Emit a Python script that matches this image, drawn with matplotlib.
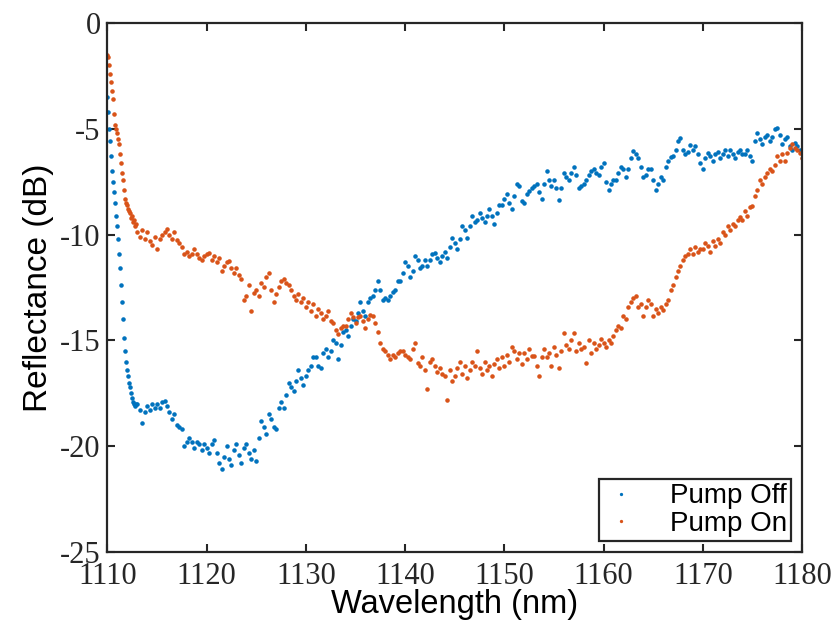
import numpy as np
import matplotlib
matplotlib.use("Agg")
import matplotlib.pyplot as plt

# wavelength grid: fine at the steep start, 0.25 nm afterwards
wl_start = np.round(np.arange(1110.0, 1112.95, 0.1), 2)
wl_main = np.round(np.arange(1113.0, 1180.01, 0.25), 2)
wavelength = np.concatenate([wl_start, wl_main])

# Pump Off (dB)
pump_off_start = [
    -3.5, -4.2, -5.0, -5.6, -6.3, -7.0, -7.5, -8.0, -8.5, -9.1,
    -9.6, -10.2, -10.9, -11.6, -12.4, -13.2, -14.0, -14.9, -15.5, -16.0,
    -16.4, -16.7, -17.0, -17.2, -17.5, -17.7, -17.9, -18.0, -18.1, -18.0,
]
pump_off_main = [
    -18.0, -18.3, -18.9, -18.4,   # 1113
    -18.1, -18.3, -18.0, -18.2,   # 1114
    -18.0, -18.2, -17.9, -17.85,  # 1115
    -18.1, -18.4, -18.7, -18.5,   # 1116
    -19.0, -19.1, -19.2, -20.0,   # 1117
    -19.8, -19.6, -19.8, -20.1,   # 1118
    -19.8, -19.9, -20.2, -19.9,   # 1119
    -20.1, -20.3, -19.9, -19.7,   # 1120
    -20.3, -20.8, -21.1, -20.5,   # 1121
    -20.0, -20.6, -20.9, -20.2,   # 1122
    -19.9, -20.4, -20.8, -20.1,   # 1123
    -19.9, -20.3, -20.6, -20.2,   # 1124
    -20.7, -19.6, -18.8, -19.1,   # 1125
    -19.4, -18.5, -18.7, -19.1,   # 1126
    -19.2, -18.2, -17.9, -18.2,   # 1127
    -17.6, -17.0, -17.2, -17.4,   # 1128
    -16.9, -16.4, -16.8, -17.1,   # 1129
    -16.7, -16.4, -16.2, -15.8,   # 1130
    -15.8, -16.2, -16.3, -15.6,   # 1131
    -15.4, -15.8, -15.5, -15.0,   # 1132
    -15.1, -15.9, -15.2, -14.6,   # 1133
    -14.5, -14.8, -14.3, -14.0,   # 1134
    -14.1, -13.7, -13.2, -13.6,   # 1135
    -13.85, -13.2, -13.0, -12.9,  # 1136
    -12.6, -12.2, -12.6, -13.1,   # 1137
    -13.0, -13.1, -12.9, -12.7,   # 1138
    -12.6, -12.2, -12.2, -11.8,   # 1139
    -11.3, -11.5, -12.0, -11.7,   # 1140
    -11.0, -11.2, -11.6, -11.5,   # 1141
    -11.2, -11.5, -11.2, -10.9,   # 1142
    -10.85, -11.1, -11.3, -11.0,  # 1143
    -10.8, -11.1, -10.6, -10.15,  # 1144
    -10.4, -10.7, -10.2, -9.6,    # 1145
    -9.8, -10.15, -9.6, -9.1,     # 1146
    -9.4, -9.3, -9.0, -9.2,       # 1147
    -9.4, -9.1, -8.8, -9.1,       # 1148
    -9.5, -9.0, -8.6, -8.6,       # 1149
    -8.3, -8.1, -8.5, -8.8,       # 1150
    -8.2, -7.6, -7.7, -8.4,       # 1151
    -8.5, -8.1, -7.95, -7.8,      # 1152
    -7.7, -7.6, -8.0, -8.3,       # 1153
    -7.6, -7.0, -7.4, -7.7,       # 1154
    -7.4, -7.8, -8.35, -7.8,      # 1155
    -7.1, -7.3, -7.4, -7.1,       # 1156
    -6.8, -7.2, -7.8, -7.7,       # 1157
    -7.6, -7.4, -7.2, -7.0,       # 1158
    -6.9, -7.1, -7.2, -6.8,       # 1159
    -6.6, -7.5, -7.9, -7.6,       # 1160
    -7.4, -7.4, -7.1, -6.8,       # 1161
    -6.9, -7.3, -6.9, -6.4,       # 1162
    -6.07, -6.2, -6.4, -6.8,      # 1163
    -7.3, -7.2, -6.9, -6.9,       # 1164
    -7.4, -7.9, -7.6, -7.3,       # 1165
    -7.4, -6.8, -6.5, -6.35,      # 1166
    -6.3, -6.0, -5.6, -5.45,      # 1167
    -6.0, -6.2, -6.1, -5.75,      # 1168
    -6.0, -5.8, -6.2, -6.6,       # 1169
    -6.9, -6.4, -6.15, -6.3,      # 1170
    -6.5, -6.2, -6.1, -6.4,       # 1171
    -6.2, -6.0, -6.3, -6.0,       # 1172
    -6.2, -6.4, -6.1, -6.0,       # 1173
    -6.2, -6.2, -6.0, -6.3,       # 1174
    -6.5, -5.6, -5.2, -5.5,       # 1175
    -5.7, -5.4, -5.3, -5.6,       # 1176
    -5.4, -5.0, -4.97, -5.3,      # 1177
    -5.7, -5.5, -5.4, -5.8,       # 1178
    -6.0, -5.65, -5.8, -6.0,      # 1179
    -6.1,                         # 1180
]

# Pump On (dB)
pump_on_start = [
    -1.5, -1.6, -2.0, -2.4, -2.8, -3.2, -3.6, -4.3, -4.8, -5.0,
    -5.2, -5.5, -5.7, -6.2, -6.6, -7.1, -7.4, -7.9, -8.3, -8.5,
    -8.6, -8.8, -8.9, -9.0, -9.2, -9.1, -9.4, -9.3, -9.6, -9.5,
]
pump_on_main = [
    -9.9, -10.1, -9.8, -10.2,     # 1113
    -9.9, -10.3, -10.5, -10.1,    # 1114
    -10.7, -10.2, -10.0, -9.9,    # 1115
    -9.75, -10.0, -10.2, -9.9,    # 1116
    -10.25, -10.4, -10.6, -10.9,  # 1117
    -10.8, -11.0, -10.9, -10.7,   # 1118
    -10.9, -11.1, -11.2, -11.0,   # 1119
    -10.9, -10.85, -11.2, -11.0,  # 1120
    -11.3, -11.1, -11.7, -11.5,   # 1121
    -11.3, -11.25, -11.6, -11.8,  # 1122
    -11.6, -11.9, -12.1, -13.1,   # 1123
    -12.9, -12.4, -13.6, -12.75,  # 1124
    -12.6, -12.9, -12.3, -12.5,   # 1125
    -12.0, -11.8, -12.6, -13.2,   # 1126
    -12.8, -12.5, -12.2, -12.1,   # 1127
    -12.3, -12.4, -12.6, -12.9,   # 1128
    -13.1, -12.8, -13.2, -13.0,   # 1129
    -13.4, -13.2, -13.6, -13.3,   # 1130
    -13.85, -13.5, -13.7, -14.0,  # 1131
    -13.85, -13.6, -14.1, -14.2,  # 1132
    -14.5, -14.7, -14.4, -14.3,   # 1133
    -14.3, -14.0, -13.7, -13.9,   # 1134
    -14.2, -13.9, -13.85, -14.1,  # 1135
    -14.4, -14.0, -13.8, -13.85,  # 1136
    -14.2, -14.6, -15.1, -15.4,   # 1137
    -15.5, -15.7, -15.9, -15.7,   # 1138
    -15.8, -15.6, -15.5, -15.5,   # 1139
    -15.7, -15.8, -15.9, -15.4,   # 1140
    -15.1, -16.05, -16.2, -15.8,  # 1141
    -16.4, -17.3, -16.0, -15.9,   # 1142
    -16.2, -16.5, -16.3, -16.6,   # 1143
    -16.7, -17.8, -16.4, -16.9,   # 1144
    -16.7, -16.3, -16.0, -16.6,   # 1145
    -16.2, -16.8, -16.4, -16.0,   # 1146
    -16.2, -15.5, -16.3, -16.6,   # 1147
    -16.0, -16.4, -16.2, -16.7,   # 1148
    -16.1, -15.9, -16.3, -15.8,   # 1149
    -16.2, -15.7, -16.0, -15.3,   # 1150
    -15.5, -15.9, -15.6, -16.1,   # 1151
    -15.6, -15.9, -15.4, -15.75,  # 1152
    -15.75, -16.2, -16.7, -15.8,  # 1153
    -15.4, -15.8, -15.6, -16.2,   # 1154
    -15.3, -15.7, -16.3, -15.5,   # 1155
    -14.65, -15.2, -15.4, -15.0,  # 1156
    -14.65, -15.5, -15.1, -15.4,  # 1157
    -15.3, -16.05, -15.0, -15.6,  # 1158
    -15.1, -15.4, -15.2, -14.95,  # 1159
    -15.1, -15.3, -15.0, -15.1,   # 1160
    -14.8, -14.5, -14.3, -14.4,   # 1161
    -13.85, -14.0, -13.4, -13.2,  # 1162
    -13.0, -12.9, -13.4, -13.3,   # 1163
    -13.85, -13.4, -13.1, -13.3,  # 1164
    -13.85, -13.5, -13.7, -13.4,  # 1165
    -13.55, -13.3, -13.1, -12.6,  # 1166
    -12.4, -12.0, -11.7, -11.5,   # 1167
    -11.2, -11.0, -10.9, -10.7,   # 1168
    -10.9, -10.6, -10.8, -10.7,   # 1169
    -10.7, -10.4, -10.55, -10.8,  # 1170
    -10.3, -10.55, -10.2, -10.4,  # 1171
    -9.9, -10.0, -9.6, -9.8,      # 1172
    -9.5, -9.6, -9.3, -9.15,      # 1173
    -9.3, -8.9, -9.1, -8.7,       # 1174
    -8.65, -8.2, -7.9, -7.4,      # 1175
    -7.6, -7.3, -7.1, -6.9,       # 1176
    -7.0, -6.7, -6.3, -6.5,       # 1177
    -6.2, -6.5, -6.15, -5.9,      # 1178
    -5.7, -5.9, -6.0, -6.15,      # 1179
    -6.4,                         # 1180
]

pump_off = np.array(pump_off_start + pump_off_main)
pump_on = np.array(pump_on_start + pump_on_main)

x_ticks = [1110, 1120, 1130, 1140, 1150, 1160, 1170, 1180]
y_ticks = [0, -5, -10, -15, -20, -25]

fig = plt.figure(figsize=(8.37, 6.26), dpi=100)
ax = fig.add_axes([0.1284, 0.1182, 0.8298, 0.8451])

ax.plot(wavelength, pump_off, linestyle='none', marker='.', markersize=4.5,
        color='#0072BD', label='Pump Off')
ax.plot(wavelength, pump_on, linestyle='none', marker='.', markersize=4.5,
        color='#D95319', label='Pump On')

ax.set_xlim(1110, 1180)
ax.set_ylim(-25, 0)
ax.set_xticks(x_ticks)
ax.set_yticks(y_ticks)
ax.set_xticklabels([str(t) for t in x_ticks], family='Liberation Serif', fontsize=22)
ax.set_yticklabels([str(t) for t in y_ticks], family='Liberation Serif', fontsize=22)
ax.tick_params(axis='x', pad=7)
ax.tick_params(axis='y', pad=5)
ax.tick_params(direction='in', length=6, width=1.5, top=True, right=True,
               colors='#262626')

for sp in ax.spines.values():
    sp.set_linewidth(1.6)
    sp.set_color('#262626')

ax.set_xlabel('Wavelength (nm)', family='Liberation Sans', fontsize=23.5, labelpad=-1)
ax.set_ylabel('Reflectance (dB)', family='Liberation Sans', fontsize=24, labelpad=4)

leg = ax.legend(loc='lower right', bbox_to_anchor=(0.984, 0.021), borderaxespad=0,
                markerscale=0.6, prop={'family': 'Liberation Sans', 'size': 20},
                fancybox=False, framealpha=1, edgecolor='#262626',
                handletextpad=1.1, borderpad=0.15, labelspacing=0.05,
                handlelength=1.3)
leg.get_frame().set_linewidth(1.6)

plt.savefig('out.png', dpi=100)
